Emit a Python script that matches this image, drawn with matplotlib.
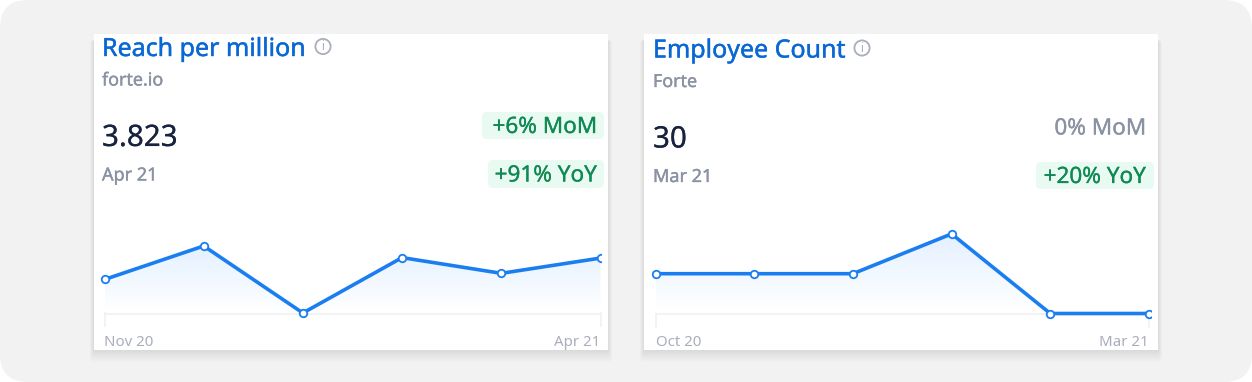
import matplotlib
matplotlib.use('Agg')
import matplotlib.pyplot as plt
import matplotlib.patheffects as pe
import numpy as np
from matplotlib.patches import FancyBboxPatch, Rectangle, Circle, Polygon

plt.rcParams['font.family'] = ['Noto Sans', 'DejaVu Sans']

# data
reach_months = ['Nov 20', 'Dec 20', 'Jan 21', 'Feb 21', 'Mar 21', 'Apr 21']
reach_values = [3.51, 4.00, 3.02, 3.83, 3.60, 3.823]
emp_months = ['Oct 20', 'Nov 20', 'Dec 20', 'Jan 21', 'Feb 21', 'Mar 21']
emp_values = [31, 31, 31, 32, 30, 30]

W, H = 1252, 382
BLUE = '#1a7ef0'
TITLE = '#0a68d4'
GREY = '#8a92a3'
GREEN = '#0f8a52'
MINT = '#e9faf2'

fig = plt.figure(figsize=(W / 100, H / 100), dpi=100, facecolor='white')
bg = fig.add_axes([0, 0, 1, 1])
bg.set_xlim(0, W)
bg.set_ylim(H, 0)
bg.axis('off')

bg.add_patch(FancyBboxPatch((0, 0), W, H, boxstyle='round,pad=0,rounding_size=28',
                            fc='#f2f2f2', ec='none'))


def label(x, y, s, color, size, ha='left', heavy=0.0):
    t = bg.text(x, y, s, color=color, fontsize=size, va='center', ha=ha)
    if heavy:
        t.set_path_effects([pe.withStroke(linewidth=heavy, foreground=color)])
    return t


def pill(x0, x1, y0, y1):
    bg.add_patch(FancyBboxPatch((x0, y0), x1 - x0, y1 - y0,
                                boxstyle='round,pad=0,rounding_size=5', fc=MINT, ec='none'))


def info_icon(x, y):
    bg.add_patch(Circle((x, y), 7.6, fc='white', ec='#a9aebb', lw=1.3))
    bg.text(x, y + 0.3, 'i', color='#a9aebb', fontsize=8.5, ha='center', va='center')


def card(left, title, sub, value, date, title_y, icon_x, tx):
    # soft shadow under the card
    for g in range(1, 13):
        bg.add_patch(FancyBboxPatch((left - g * 0.35, 40), 514 + g * 0.7, 310 + g,
                                    boxstyle='round,pad=0,rounding_size=3',
                                    fc='black', ec='none', alpha=0.008))
    bg.add_patch(Rectangle((left, 34), 514, 316, fc='white', ec='none'))
    label(tx, title_y + 2, title, TITLE, 18, heavy=0.3)
    info_icon(icon_x, title_y - 1)
    label(tx, title_y + 33, sub, GREY, 12.9, heavy=0.25)
    label(tx, title_y + 91, value, '#18233f', 21.3, heavy=0.1)
    label(tx, title_y + 128, date, GREY, 13, heavy=0.25)


def spark(px0, px1, base_y, vals, vmin, px_per_unit, clip_right, first, last):
    # axes spans clip_left..clip_right, y runs in data units
    top_px, bot_px = 225, 322
    clip_left = px0 - 5
    step = (px1 - px0) / (len(vals) - 1)
    ax = fig.add_axes([clip_left / W, 1 - bot_px / H, (clip_right - clip_left) / W, (bot_px - top_px) / H])
    ax.axis('off')
    ax.patch.set_alpha(0)
    x = np.arange(len(vals))
    ylo = vmin
    yhi = max(vals)
    # gradient under the line
    grad = np.linspace(0, 1, 64).reshape(-1, 1)
    rgba = np.ones((64, 1, 4))
    rgba[:, :, 0] = 0.10
    rgba[:, :, 1] = 0.52
    rgba[:, :, 2] = 1.0
    rgba[:, :, 3] = 0.12 * grad
    im = ax.imshow(rgba, extent=[0, len(vals) - 1, ylo, yhi], origin='lower', aspect='auto', zorder=1)
    im.set_clip_path(Polygon(np.column_stack([np.r_[x, x[-1], 0], np.r_[vals, ylo, ylo]]),
                             transform=ax.transData))
    ax.set_xlim((clip_left - px0) / step, (clip_right - px0) / step)
    ax.set_ylim(vmin - (bot_px - base_y) / px_per_unit, vmin + (base_y - top_px) / px_per_unit)
    ax.plot(x, vals, '-', color=BLUE, lw=2.6, zorder=3, solid_joinstyle='miter',
            marker='o', ms=5.4, mfc='white', mec=BLUE, mew=1.3)
    # baseline + end ticks, drawn in pixel axes
    bg.plot([px0, px1], [base_y + 0.5, base_y + 0.5], color='#eff1f4', lw=1.2)
    bg.plot([px0, px0], [base_y, base_y + 13], color='#eff1f4', lw=1.2)
    bg.plot([px1, px1], [base_y, base_y + 13], color='#eff1f4', lw=1.2)
    label(px0, 342, first, '#a9aebb', 10.8)
    label(px1 - 0.5, 342, last, '#a9aebb', 10.8, ha='right')


# left card
card(94, 'Reach per million', 'forte.io', '3.823', 'Apr 21', 47.5, 323, 102)
pill(482, 604, 112, 139)
pill(488, 604, 160, 188)
label(597, 127.5, '+6% MoM', GREEN, 16.2, ha='right', heavy=0.2)
label(597, 176, '+91% YoY', GREEN, 16.2, ha='right', heavy=0.2)
spark(104.5, 600.5, 313, reach_values, 3.02, 68.4, 601, reach_months[0], reach_months[-1])

# right card
card(644, 'Employee Count', 'Forte', '30', 'Mar 21', 49, 862, 653)
pill(1036, 1154, 162, 189)
label(1146, 129, '0% MoM', GREY, 16.2, ha='right', heavy=0.2)
label(1146, 177.5, '+20% YoY', GREEN, 16.2, ha='right', heavy=0.2)
spark(655.5, 1149, 313.5, emp_values, 30, 39.8, 1151, emp_months[0], emp_months[-1])

fig.savefig('out.png', dpi=100, facecolor='white')
